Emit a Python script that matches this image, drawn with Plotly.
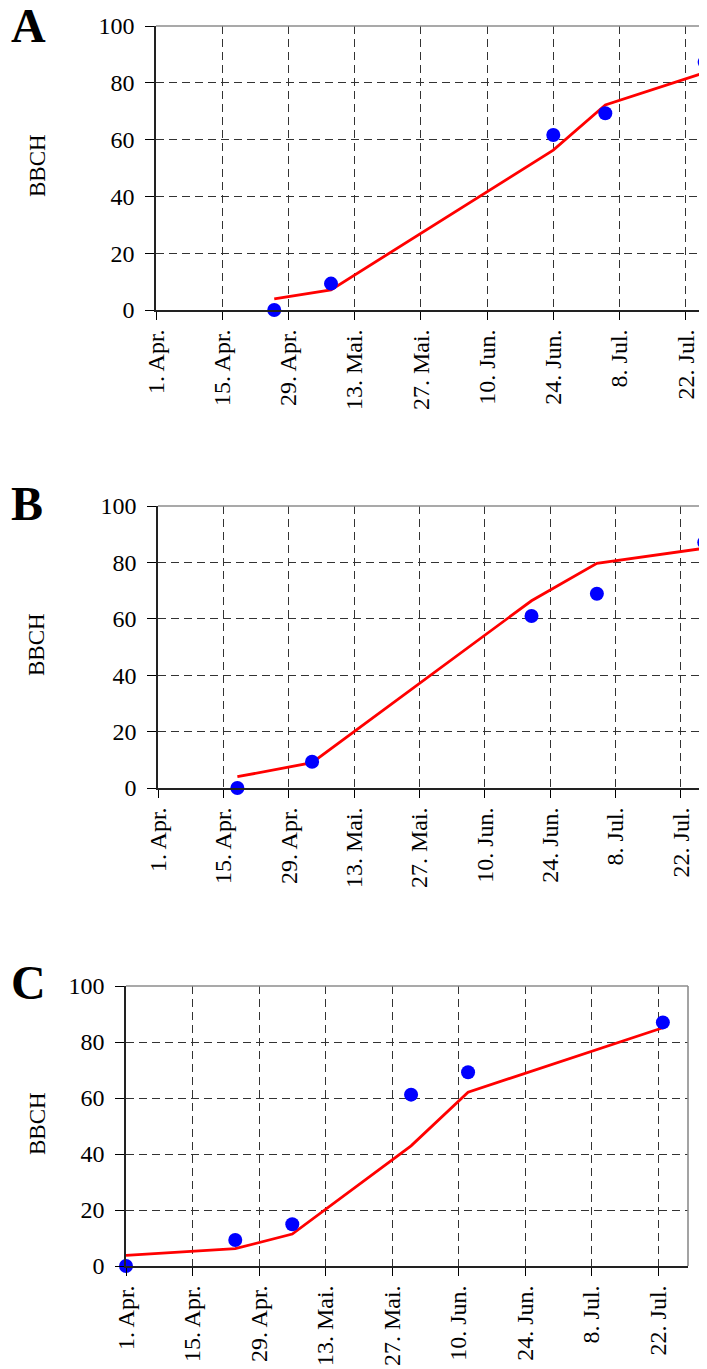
import plotly.graph_objects as go

# ---- data ----
tick_dates = ["2010-04-01", "2010-04-15", "2010-04-29", "2010-05-13", "2010-05-27",
              "2010-06-10", "2010-06-24", "2010-07-08", "2010-07-22"]
tick_labels = ["1. Apr.", "15. Apr.", "29. Apr.", "13. Mai.", "27. Mai.",
               "10. Jun.", "24. Jun.", "8. Jul.", "22. Jul."]
y_ticks = [0, 20, 40, 60, 80, 100]

a_dates = ["2010-04-26", "2010-05-08", "2010-06-24", "2010-07-05", "2010-07-26"]
a_observed = [0, 9.3, 61.6, 69.3, 87.3]
a_simulated = [3.9, 7.1, 56.3, 72.2, 83.6]

b_dates = ["2010-04-18", "2010-05-04", "2010-06-20", "2010-07-04", "2010-07-27"]
b_observed = [0, 9.3, 61.0, 68.9, 87.1]
b_simulated = [4.0, 9.0, 66.4, 79.7, 85.0]

c_dates = ["2010-04-01", "2010-04-24", "2010-05-06", "2010-05-31", "2010-06-12", "2010-07-23"]
c_observed = [0, 9.3, 14.9, 61.2, 69.2, 87.0]
c_simulated = [3.8, 6.2, 11.4, 42.9, 62.1, 85.1]

panel_letters = ["A", "B", "C"]
x_ranges = [["2010-04-01", "2010-07-26 12:00"],
            ["2010-04-01", "2010-07-27 14:00"],
            ["2010-04-01", "2010-07-28 07:00"]]

PAGE_W, PAGE_H = 707, 1369
OFF = 8  # page body margin
W, H = PAGE_W - OFF, PAGE_H - OFF
FONT = "Liberation Serif"

# panel geometry in page pixels: (left, right, top, bottom)
geom = [(156, 707, 26, 310), (158, 707, 506, 788), (126, 688, 986, 1266)]
letter_y = [27, 505, 984]
bbch_x = 38


def px(x):
    return (x - OFF) / W


def py(y):
    return 1 - (y - OFF) / H


fig = go.Figure()
series = [(a_dates, a_observed, a_simulated),
          (b_dates, b_observed, b_simulated),
          (c_dates, c_observed, c_simulated)]

for i, (d, obs, sim) in enumerate(series):
    n = "" if i == 0 else str(i + 1)
    fig.add_trace(go.Scatter(x=d, y=sim, mode="lines",
                             line=dict(color="#ff0000", width=2.8),
                             xaxis="x" + n, yaxis="y" + n, cliponaxis=False,
                             showlegend=False))
    fig.add_trace(go.Scatter(x=d, y=obs, mode="markers",
                             marker=dict(color="#0000ff", size=14),
                             xaxis="x" + n, yaxis="y" + n, cliponaxis=False,
                             showlegend=False))

layout = dict(width=W, height=H, margin=dict(l=0, r=0, t=0, b=0, autoexpand=False),
              paper_bgcolor="white", plot_bgcolor="white", showlegend=False)

shapes = []
annotations = []
for i, (l, r, t, b) in enumerate(geom):
    n = "" if i == 0 else str(i + 1)
    xa = dict(type="date", domain=[px(l), min(px(r), 1)], anchor="y" + n, automargin=False,
              range=x_ranges[i], tickvals=tick_dates, ticktext=tick_labels,
              tickangle=-90, ticks="outside", ticklen=8, tickwidth=1.2,
              tickcolor="black", ticklabelstandoff=0,
              tickfont=dict(family=FONT, size=24, color="black"),
              showgrid=True, gridcolor="#333333", gridwidth=1, griddash="8px,5px",
              showline=True, linecolor="#222222", linewidth=1.6,
              zeroline=False, fixedrange=True)
    ya = dict(domain=[py(b), py(t)], anchor="x" + n, range=[0, 100], automargin=False,
              tickvals=y_ticks, ticks="outside", ticklen=9, tickwidth=1.2,
              tickcolor="black", ticklabelstandoff=6,
              tickfont=dict(family=FONT, size=24, color="black"),
              showgrid=True, gridcolor="#333333", gridwidth=1, griddash="8px,5px",
              showline=True, linecolor="#222222", linewidth=1.6,
              zeroline=False, fixedrange=True)
    layout["xaxis" + n] = xa
    layout["yaxis" + n] = ya
    shapes.append(dict(type="line", xref="x" + n + " domain", yref="y" + n + " domain",
                       x0=0, x1=1, y0=1, y1=1, line=dict(color="#8c8c8c", width=1.6)))
    if i == 2:
        shapes.append(dict(type="line", xref="x" + n + " domain", yref="y" + n + " domain",
                           x0=1, x1=1, y0=0, y1=1, line=dict(color="#8c8c8c", width=1.6)))
    annotations.append(dict(text="<b>" + panel_letters[i] + "</b>", xref="paper", yref="paper",
                            x=px(9), y=py(letter_y[i] - 1.5), xanchor="left", yanchor="middle",
                            showarrow=False, font=dict(family=FONT, size=48, color="black")))
    annotations.append(dict(text="BBCH", xref="paper", yref="paper",
                            x=px(bbch_x - 1), y=py((t + b) / 2 - 2), xanchor="center",
                            yanchor="middle", textangle=-90, showarrow=False,
                            font=dict(family=FONT, size=23, color="black")))

layout["shapes"] = shapes
layout["annotations"] = annotations
fig.update_layout(**layout)
fig.write_html("out.html")
